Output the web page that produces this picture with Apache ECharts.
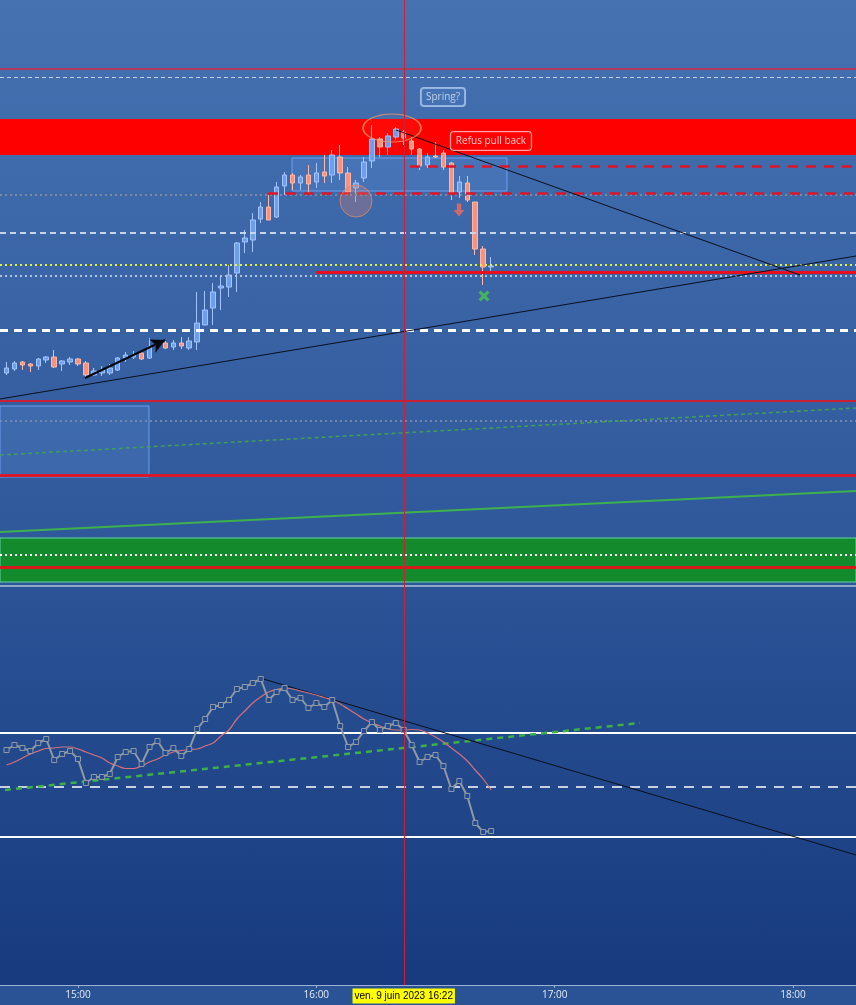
<!DOCTYPE html>
<html><head><meta charset="utf-8">
<script src="https://cdn.jsdelivr.net/npm/echarts@6/dist/echarts.min.js"></script>
<style>
html,body{margin:0;padding:0;}
#c{width:856px;height:1005px;background:linear-gradient(to bottom,#4672b2 0px,#2d5698 585px,#8ea5cc 585px,#8ea5cc 587px,#2b5396 587px,#173a7e 985px,#2a5396 985px,#2a5396 1005px);}
</style></head><body><div id="c"></div>
<script>
// ---------- data ----------
const candleTimes = ['14:42','14:44','14:46','14:48','14:50','14:52','14:54','14:56','14:58',
 '15:00','15:02','15:04','15:06','15:08','15:10','15:12','15:14','15:16','15:18','15:20','15:22','15:24','15:26','15:28','15:30','15:32','15:34','15:36','15:38','15:40','15:42','15:44','15:46','15:48','15:50','15:52','15:54','15:56','15:58',
 '16:00','16:02','16:04','16:06','16:08','16:10','16:12','16:14','16:16','16:18','16:20','16:22','16:24','16:26','16:28','16:30','16:32','16:34','16:36','16:38','16:40','16:42','16:44'];
const opens = [627,631,638,636,634,640,643,636,638,641, 637,625,627,627,630,642,643,647,642,654,
 657,653,657,652,658,675,692,712,713,727, 758,760,781,793,783,814,825,817,825,818,
 828,825,843,827,812,822,839,861,853,863, 868,859,851,835,844,847,837,808,817,798, 751,733];
const closes = [632,637,635,634,641,643,633,639,641,636, 625,629,630,632,642,645,645,641,653,657,
 652,657,654,659,677,690,708,714,725,757, 762,780,793,780,813,825,817,823,816,827,
 824,845,827,808,817,838,861,853,864,871, 862,851,834,843,843,833,807,818,800,751, 733,734];
const lows = [625,629,630,628,630,637,632,629,635,634, 623,624,624,625,629,638,641,640,641,652,
 651,650,651,650,650,675,675,690,703,708, 747,748,777,780,782,805,810,810,807,812,
 817,817,820,805,798,818,832,843,845,860, 855,845,830,832,842,830,800,802,798,745, 715,729];
const highs = [638,639,639,637,642,644,650,640,643,642, 639,632,634,636,643,648,649,649,662,660,
 659,660,663,663,708,709,717,725,735,758, 770,787,798,805,818,828,827,825,835,837,
 845,850,855,833,820,843,875,863,867,873, 870,863,852,847,858,850,838,824,824,798, 754,743];
const oscillator = [250,255,252,249,257,261,240,246,249,241, 217,223,223,226,243,248,249,236,253,259,
 247,252,244,251,271,281,293,295,300,311, 313,317,321,300,308,312,300,302,292,297,
 293,300,274,253,258,269,278,270,274,277, 270,255,238,243,245,234,211,219,204,177, 168,169];
const oscAverage = [235,238,242,246,249,251.5,252,253,253,251, 248,245,242,237,234,231.5,231.5,234,238,241,
 245,248,249.5,250.5,251,254,257,264,270,281, 289,297,303,308,310.5,312,311,309,307,305,
 302.5,300,296,291,286,281,277,274,271,270, 270,270.5,270,267,263,258,252,246,239,230, 221,210];
const tickLabels = ['15:00','16:00','17:00','18:00'];
const cursorTime = '16:22';
const cursorLabel = 'ven. 9 juin 2023 16:22';

// price levels (main pane)
const resistanceBand = [845, 881];
const supportBand = [418, 462];
const topRedLevel = 931;
const topWhiteLevel = 923;
const redDashedHigh = {from:'16:23:35', v:834};
const redDashedLow = {from:'15:47:50', v:807};
const grayDotted1 = 805;
const whiteDashed1 = 767;
const yellowDotted = 735;
const redSolidMid = {from:'16:00', v:728};
const whiteDotted1 = 724;
const whiteDashedThick = 670;
const redLine1 = 599;
const grayDotted2 = 579;
const redLine2 = 525;
const whiteDotted2 = 445;
const redLine3 = 433;
const rangeBox = {t0:'15:53:52', t1:'16:48:00', v0:809, v1:842};
const leftBox = {t1:'15:17:52', v0:523, v1:594};
const trendUp = [601, 744];
const trendDown = [['16:20:03', 870], ['18:01:46', 725]];
const greenDashedTrend = [545, 592];
const greenSolidTrend = [468, 509];
const impulseArrow = [['15:01:46', 622], ['15:21:54', 660]];
const springZone = ['16:19:03', 872];
const testZone = ['16:09:59', 799];
const downMark = ['16:35:55', 790];
const crossMark = ['16:42:13', 704];
const springNote = {t:'16:31:53', v:903, text:'Spring?'};
const refusNote = {t:'16:43:58', v:859, text:'Refus pull back'};
// oscillator pane levels
const oscUpper = 267, oscMid = 213, oscLower = 163;
const oscGreenTrend = [['14:41:37', 210], ['17:21:29', 277]];
const oscDownTrend = [['15:45:49', 322], 145];

// ---------- helpers ----------
function toMin(s){const p=s.split(':').map(Number);return p[0]*60+p[1]+(p[2]||0)/60;}
function fmt(v){const h=Math.floor(v/60), m=Math.round(v-h*60);return String(h).padStart(2,'0')+':'+String(m).padStart(2,'0');}
const xMin = 880.36, xMax = 1095.86;
function seg(t0,v0,t1,v1,style,extra0,extra1){
  return [Object.assign({coord:[t0,v0], lineStyle:style}, extra0||{}), Object.assign({coord:[t1,v1]}, extra1||{})];
}
function hl(v,style,from){return seg(from!=null?from:xMin,v,xMax,v,style);}

const candleData = candleTimes.map((t,i)=>[toMin(t), opens[i], closes[i], lows[i], highs[i]]);
const oscData = candleTimes.map((t,i)=>[toMin(t), oscillator[i]]);
const avgData = candleTimes.map((t,i)=>[toMin(t), oscAverage[i]]);
const tickMins = tickLabels.map(toMin);

const chart = echarts.init(document.getElementById('c'), null, {renderer:'canvas'});
const option = {
  animation:false,
  backgroundColor:'transparent',
  grid:[{left:0,right:0,top:0,height:585},{left:0,right:0,top:590,height:395}],
  xAxis:[
    {type:'value',gridIndex:0,min:xMin,max:xMax,show:false},
    {type:'value',gridIndex:1,min:xMin,max:xMax,
     axisLine:{show:true,onZero:false,lineStyle:{color:'#9db2d6',width:1}},
     axisTick:{show:true,length:3,lineStyle:{color:'#9db2d6'},customValues:tickMins},
     axisLabel:{color:'#e6edf7',fontSize:10,margin:5,fontFamily:'Open Sans',customValues:tickMins,formatter:v=>fmt(v)},
     splitLine:{show:false}}
  ],
  yAxis:[
    {type:'value',gridIndex:0,min:415,max:1000,show:false,splitLine:{show:false}},
    {type:'value',gridIndex:1,min:15,max:410,show:false,splitLine:{show:false}}
  ],
  series:[
    {type:'candlestick',xAxisIndex:0,yAxisIndex:0,data:candleData,encode:{x:0,y:[1,2,3,4]},
     barWidth:5,silent:true,
     itemStyle:{color:'#6d9ef0',color0:'#f4937f',borderColor:'#a2c4ff',borderColor0:'#ffb6a6',borderWidth:1},
     markArea:{silent:true,data:[
       [{coord:[xMin,resistanceBand[1]],itemStyle:{color:'#ff0000'}},{coord:[xMax,resistanceBand[0]]}],
       [{coord:[xMin,supportBand[1]],itemStyle:{color:'#138a2c',borderColor:'#63d6a0',borderWidth:1}},{coord:[xMax,supportBand[0]]}],
       [{coord:[toMin(rangeBox.t0),rangeBox.v1],itemStyle:{color:'rgba(110,160,240,0.18)',borderColor:'#6f9ef2',borderWidth:1}},{coord:[toMin(rangeBox.t1),rangeBox.v0]}],
       [{coord:[xMin,leftBox.v1],itemStyle:{color:'rgba(110,160,240,0.18)',borderColor:'#6f9ef2',borderWidth:1}},{coord:[toMin(leftBox.t1),leftBox.v0]}]
     ]},
     markLine:{silent:true,symbol:['none','none'],label:{show:false},data:[
       hl(topRedLevel,{color:'#d42a3e',width:1.5,type:'solid'}),
       hl(topWhiteLevel,{color:'#c4cfe2',width:1,type:[4,3]}),
       hl(redDashedHigh.v,{color:'#e01428',width:2.5,type:[10,8]},toMin(redDashedHigh.from)),
       hl(grayDotted1,{color:'#7e8a9c',width:2,type:[2,3]}),
       hl(redDashedLow.v,{color:'#e01428',width:2.5,type:[10,8]},toMin(redDashedLow.from)),
       hl(whiteDashed1,{color:'#c9d4e8',width:2,type:[6,4]}),
       hl(yellowDotted,{color:'#e6f03c',width:2,type:[2,3]}),
       hl(redSolidMid.v,{color:'#e8101c',width:3,type:'solid'},toMin(redSolidMid.from)),
       hl(whiteDotted1,{color:'#b4c2da',width:2,type:[2,3]}),
       hl(whiteDashedThick,{color:'#ffffff',width:3,type:[8,6]}),
       hl(redLine1,{color:'#cc1f34',width:2,type:'solid'}),
       hl(grayDotted2,{color:'#8494ae',width:1.5,type:[2,3]}),
       hl(redLine2,{color:'#d8192c',width:3,type:'solid'}),
       seg(xMin,greenDashedTrend[0],xMax,greenDashedTrend[1],{color:'#3f9f5c',width:1.5,type:[4,3]}),
       seg(xMin,greenSolidTrend[0],xMax,greenSolidTrend[1],{color:'#3db24c',width:2,type:'solid'}),
       hl(whiteDotted2,{color:'#ffffff',width:2,type:[2,3]}),
       hl(redLine3,{color:'#d8191c',width:3,type:'solid'}),
       seg(xMin,trendUp[0],xMax,trendUp[1],{color:'#0b0f1c',width:1,type:'solid'}),
       seg(toMin(trendDown[0][0]),trendDown[0][1],toMin(trendDown[1][0]),trendDown[1][1],{color:'#0b0f1c',width:1,type:'solid'}),
       seg(toMin(impulseArrow[0][0]),impulseArrow[0][1],toMin(impulseArrow[1][0]),impulseArrow[1][1],{color:'#05080f',width:2,type:'solid'},{symbol:'none'},{symbol:'arrow',symbolSize:[11,14]})
     ]}
    },
    {type:'scatter',xAxisIndex:0,yAxisIndex:0,silent:true,z:6,data:[
      {value:[toMin(springZone[0]),springZone[1]],symbol:'circle',symbolSize:[58,28],itemStyle:{color:'rgba(240,150,100,0.08)',borderColor:'#ec9868',borderWidth:1.2}},
      {value:[toMin(testZone[0]),testZone[1]],symbol:'circle',symbolSize:32,itemStyle:{color:'rgba(225,130,110,0.35)',borderColor:'#d98a70',borderWidth:1}},
      {value:[toMin(downMark[0]),downMark[1]],symbol:'path://M3,0 L7,0 L7,6 L10,6 L5,12 L0,6 L3,6 Z',symbolSize:[11,13],itemStyle:{color:'#f2695c'}},
      {value:[toMin(crossMark[0]),crossMark[1]],symbol:'path://M2,0 L5,3 L8,0 L10,2 L7,5 L10,8 L8,10 L5,7 L2,10 L0,8 L3,5 L0,2 Z',symbolSize:11,itemStyle:{color:'#4cc650'}},
      {value:[toMin(springNote.t),springNote.v],symbol:'rect',symbolSize:1,itemStyle:{color:'rgba(0,0,0,0)'},
       label:{show:true,position:'inside',formatter:springNote.text,color:'#d9e5f5',fontSize:10,fontFamily:'Open Sans',
        backgroundColor:'rgba(90,140,210,0.2)',borderColor:'#b3cdf0',borderWidth:1,borderRadius:3,padding:[4,5]}},
      {value:[toMin(refusNote.t),refusNote.v],symbol:'rect',symbolSize:1,itemStyle:{color:'rgba(0,0,0,0)'},
       label:{show:true,position:'inside',formatter:refusNote.text,color:'#ffffff',fontSize:10,fontFamily:'Open Sans',
        backgroundColor:'#ff0000',borderColor:'#ffd0d0',borderWidth:1,borderRadius:3,padding:[4,5]}}
    ]},
    {type:'line',xAxisIndex:1,yAxisIndex:1,data:oscData,silent:true,z:4,
     symbol:'rect',symbolSize:5,showAllSymbol:true,
     lineStyle:{color:'#9099a4',width:2},itemStyle:{color:'#234a8c',borderColor:'#9099a4',borderWidth:1},
     markLine:{silent:true,symbol:['none','none'],label:{show:false},z:3,data:[
       hl(oscUpper,{color:'#ffffff',width:2,type:'solid'}),
       hl(oscMid,{color:'#ffffff',width:1.5,type:[10,8]}),
       hl(oscLower,{color:'#ffffff',width:2,type:'solid'}),
       seg(toMin(oscGreenTrend[0][0]),oscGreenTrend[0][1],toMin(oscGreenTrend[1][0]),oscGreenTrend[1][1],{color:'#3db048',width:2.5,type:[6,5]}),
       seg(toMin(oscDownTrend[0][0]),oscDownTrend[0][1],xMax,oscDownTrend[1],{color:'#0a0f1a',width:1,type:'solid'})
     ]}
    },
    {type:'line',xAxisIndex:1,yAxisIndex:1,data:avgData,silent:true,z:3,smooth:0.4,symbol:'none',
     lineStyle:{color:'#d6707c',width:1.2}}
  ]
};
chart.setOption(option);
const cx = chart.convertToPixel({xAxisIndex:1}, toMin(cursorTime));
chart.setOption({graphic:[
  {type:'line',silent:true,z:50,shape:{x1:Math.round(cx)+0.5,y1:0,x2:Math.round(cx)+0.5,y2:985},style:{stroke:'#c8223a',lineWidth:1}},
  {type:'text',silent:true,z:60,x:cx,y:996,style:{text:cursorLabel,fill:'#000000',backgroundColor:'#ffff00',padding:[3,2,2,2],
    font:'10px "Liberation Sans"',align:'center',verticalAlign:'middle'}}
]});
</script>
</body></html>
